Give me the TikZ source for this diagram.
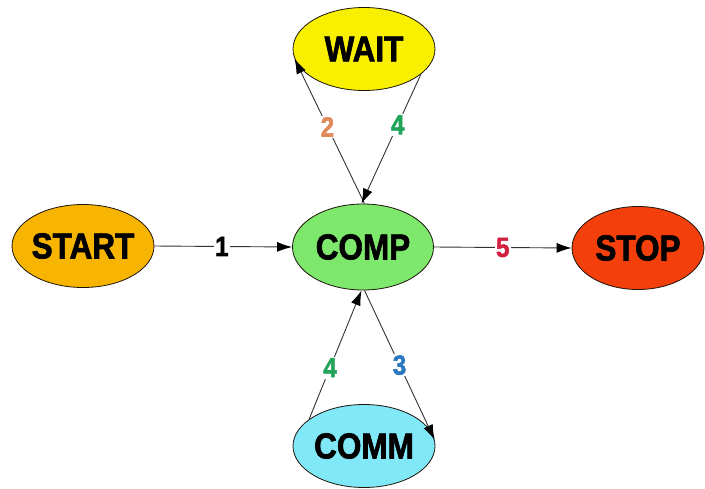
\documentclass[tikz,border=0pt]{standalone}
\usepackage{fontspec}
\usepackage{graphicx}
\setmainfont{Liberation Sans}
\newfontfamily\heavy{Liberation Sans Bold}[FakeBold=2]
\usetikzlibrary{shapes.geometric,arrows.meta}
\definecolor{cstart}{HTML}{F7B400}
\definecolor{cwait}{HTML}{F8F000}
\definecolor{ccomp}{HTML}{7EE86C}
\definecolor{cstop}{HTML}{F23F0C}
\definecolor{ccomm}{HTML}{80E8F6}
\definecolor{ltwo}{HTML}{E0895A}
\definecolor{lfour}{HTML}{22A45A}
\definecolor{lthree}{HTML}{2A78C0}
\definecolor{lfive}{HTML}{D42040}
\newcommand{\stxt}[1]{\makebox[0pt]{\scalebox{1.05}[1.2]{\heavy #1}}}
\newcommand{\dtxt}[1]{\scalebox{1.05}[1.2]{\heavy #1}}
\tikzset{
  state/.style={ellipse, draw=black!85!brown, line width=0.8pt, minimum width=142pt, minimum height=83pt, inner sep=0pt, font=\fontsize{30}{34}\selectfont},
  conn/.style={draw=black!80, line width=0.9pt, -{Latex[length=15pt,width=10pt,color=black]}},
  num/.style={fill=white, inner sep=1.5pt, font=\fontsize{23}{26}\selectfont}
}
\begin{document}
\begin{tikzpicture}[x=1pt,y=-1pt]
\useasboundingbox (0,0) rectangle (705,488);
\node[state, fill=cstart] (start) at (83,246) {\stxt{START}};
\node[state, fill=ccomp, minimum width=141pt, minimum height=86pt] (comp) at (363,247) {\stxt{COMP}};
\node[state, fill=cstop, minimum width=132pt] (stop) at (638,248) {\stxt{STOP}};
\node[state, fill=cwait] (wait) at (364,49) {\stxt{WAIT}};
\node[state, fill=ccomm] (comm) at (364,446) {\stxt{COMM}};
\draw[conn] (start.east) -- node[num, pos=0.49] {\dtxt{1}} (comp.west);
\draw[conn] (comp.east) -- node[num, pos=0.5, text=lfive] {\dtxt{5}} (stop.west);
\draw[conn] (comp.88) -- node[num, pos=0.53, text=ltwo] {\dtxt{2}} (wait.188);
\draw[conn] (wait.336) -- node[num, pos=0.39, text=lfour] {\dtxt{4}} (comp.92);
\draw[conn] (comm.154) -- node[num, pos=0.4, text=lfour] {\dtxt{4}} (comp.268);
\draw[conn] (comp.272) -- node[num, pos=0.5, text=lthree] {\dtxt{3}} (comm.5);
\end{tikzpicture}
\end{document}
